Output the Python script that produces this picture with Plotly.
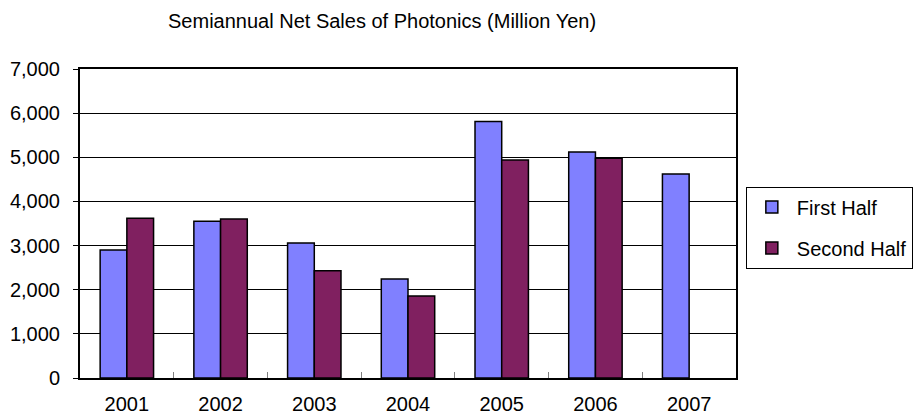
import plotly.graph_objects as go

years = ["2001", "2002", "2003", "2004", "2005", "2006", "2007"]
first_half = [2900, 3550, 3060, 2240, 5810, 5120, 4620]
second_half = [3620, 3600, 2430, 1860, 4940, 4980, None]
y_ticks = [0, 1000, 2000, 3000, 4000, 5000, 6000, 7000]
y_tick_labels = ["0", "1,000", "2,000", "3,000", "4,000", "5,000", "6,000", "7,000"]

FONT = "Liberation Sans, Arial, sans-serif"

fig = go.Figure()
fig.add_trace(go.Bar(
    name="First Half", x=years, y=first_half, legendgroup="a",
    marker=dict(color="#8080FF", line=dict(color="#000000", width=1.5)),
))
fig.add_trace(go.Bar(
    name="Second Half", x=years, y=second_half, legendgroup="b",
    marker=dict(color="#802060", line=dict(color="#000000", width=1.5)),
))

fig.update_layout(
    width=914, height=414,
    margin=dict(l=80, r=178, t=69, b=36, autoexpand=False),
    paper_bgcolor="white", plot_bgcolor="white",
    barmode="group", bargap=0.43, bargroupgap=0,
    font=dict(family=FONT, color="#000000"),
    title=dict(
        text="Semiannual Net Sales of Photonics (Million Yen)",
        font=dict(size=20, family=FONT, color="#000000"),
        x=0.418, xanchor="center", xref="container",
        y=0.949, yanchor="middle",
    ),
    legend=dict(
        x=1.015, xanchor="left", y=0.487, yanchor="middle",
        bordercolor="#000000", borderwidth=1,
        font=dict(size=20, family=FONT, color="#000000"),
        bgcolor="white", traceorder="grouped", tracegroupgap=12,
        itemwidth=40,
    ),
    showlegend=True,
)

fig.update_xaxes(
    type="category", automargin=False,
    showline=True, linecolor="#000000", linewidth=2, mirror=True,
    ticks="inside", tickson="boundaries", ticklen=6, tickcolor="#808080", tickwidth=1,
    tickfont=dict(size=20, family=FONT, color="#000000"),
    ticklabelstandoff=7,
    showgrid=False,
)
fig.update_yaxes(
    range=[0, 7000], automargin=False,
    tickvals=y_ticks, ticktext=y_tick_labels,
    showline=True, linecolor="#000000", linewidth=2, mirror=True,
    ticks="outside", ticklen=5, tickcolor="#000000", tickwidth=1,
    tickfont=dict(size=20, family=FONT, color="#000000"),
    ticklabelstandoff=9,
    showgrid=True, gridcolor="#000000", gridwidth=1,
    zeroline=False,
)

fig.write_html("out.html")
